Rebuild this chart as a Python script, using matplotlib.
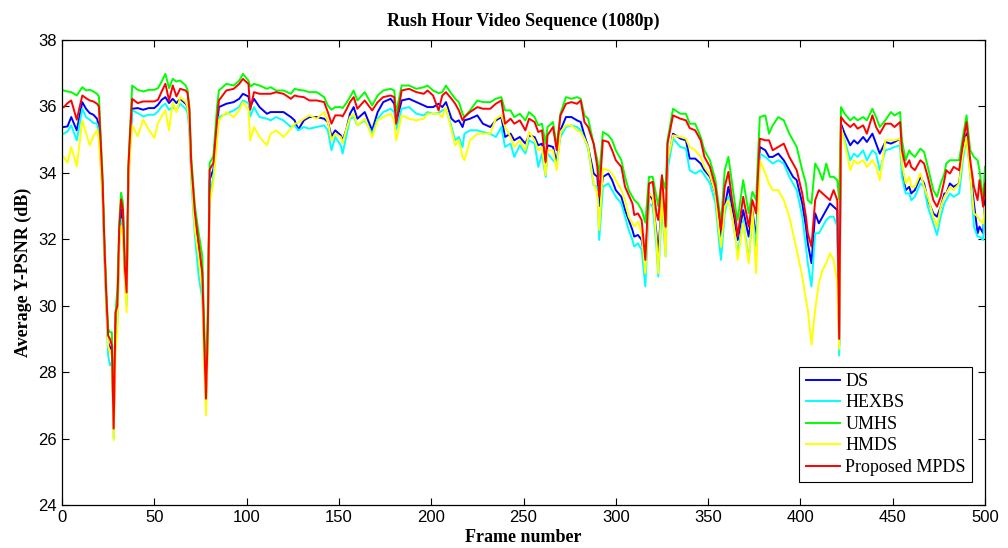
import matplotlib
matplotlib.use("Agg")
import matplotlib.pyplot as plt

frames = [1, 3, 5, 8, 11, 13, 15, 17, 19, 20, 22, 23, 24, 25, 26, 27, 28, 29, 30, 31, 32, 33, 34, 35, 36, 37, 38,
          41, 44, 47, 50, 52, 54, 56, 58, 60, 62, 64, 67, 68, 69, 70, 72, 74, 76, 77, 78, 79, 80, 82, 84, 85,
          89, 93, 96, 98, 101, 102, 104, 107, 111, 113, 116, 120, 124, 126, 128, 131, 134, 138, 142, 144, 146,
          148, 151, 152, 154, 156, 158, 160, 164, 168, 171, 174, 178, 180, 181, 184, 188, 192, 196, 198, 201,
          204, 206, 208, 211, 213, 215, 217, 218, 221, 225, 228, 232, 235, 238, 240, 243, 245, 248, 251, 253,
          256, 258, 260, 262, 263, 266, 268, 270, 273, 276, 279, 281, 283, 285, 288, 290, 291, 293, 296, 298,
          300, 303, 305, 307, 309, 310, 312, 314, 316, 318, 320, 322, 323, 325, 327, 328, 331, 335, 338, 340,
          343, 346, 348, 351, 354, 356, 357, 359, 361, 363, 365, 366, 369, 372, 374, 376, 378, 381, 383, 385,
          388, 391, 394, 396, 398, 401, 403, 404, 406, 408, 410, 412, 414, 416, 418, 420, 421, 422, 424, 427,
          429, 431, 434, 436, 439, 441, 443, 446, 449, 451, 454, 455, 457, 459, 460, 462, 465, 467, 469, 472,
          474, 476, 478, 479, 481, 483, 486, 488, 490, 492, 494, 496, 497, 499, 500]

umhs = [36.48, 36.45, 36.43, 36.33, 36.58, 36.48, 36.50, 36.45, 36.38, 36.30, 33.90, 32.00, 30.50, 29.30, 29.20, 29.20, 26.80, 29.80, 30.50, 32.50, 33.40, 33.10, 31.50, 30.50, 34.30, 35.50, 36.63,
        36.50, 36.45, 36.50, 36.50, 36.55, 36.75, 36.98, 36.55, 36.83, 36.75, 36.78, 36.63, 36.50, 36.00, 34.50, 33.00, 32.20, 31.50, 29.50, 27.80, 30.00, 34.30, 34.50, 36.00, 36.48,
        36.68, 36.63, 36.78, 36.98, 36.78, 36.60, 36.68, 36.63, 36.53, 36.58, 36.48, 36.48, 36.38, 36.53, 36.50, 36.48, 36.43, 36.43, 36.28, 36.03, 35.90,
        35.98, 35.98, 35.95, 36.10, 36.28, 36.48, 36.18, 36.43, 36.03, 36.33, 36.48, 36.53, 36.48, 35.80, 36.63, 36.63, 36.53, 36.58, 36.63, 36.48,
        36.40, 36.43, 36.63, 36.38, 36.23, 36.13, 35.78, 35.68, 35.88, 36.18, 36.13, 36.13, 36.23, 36.28, 35.88, 35.88, 35.68, 35.78, 35.58, 35.83,
        35.68, 35.43, 35.48, 34.88, 35.38, 35.53, 34.78, 35.78, 36.28, 36.23, 36.28, 36.23, 35.73, 35.63, 34.88, 34.38, 33.90, 35.23, 35.13, 34.98,
        34.68, 34.38, 33.88, 33.48, 33.28, 33.18, 33.08, 32.88, 32.50, 33.88, 33.88, 33.30, 33.00, 33.88, 33.50, 34.98, 35.93, 35.78, 35.78, 35.48,
        35.48, 35.08, 34.68, 34.38, 33.78, 32.90, 32.48, 34.08, 34.48, 33.68, 32.88, 32.58, 33.78, 32.78, 33.43, 33.18, 35.68, 35.73, 35.18, 35.43,
        35.68, 35.58, 35.18, 34.98, 34.78, 34.08, 33.68, 33.18, 33.08, 34.28, 34.08, 33.78, 34.28, 33.88, 33.88, 33.78, 33.20, 35.98, 35.78, 35.58,
        35.68, 35.58, 35.68, 35.58, 35.93, 35.68, 35.38, 35.58, 35.83, 35.73, 35.83, 34.98, 34.38, 34.68, 34.58, 34.48, 34.73, 34.63, 34.18, 33.48,
        33.28, 33.68, 33.98, 34.28, 34.38, 34.38, 34.38, 35.08, 35.73, 34.68, 34.48, 34.38, 34.08, 33.18, 34.18]

mpds = [35.98, 36.10, 36.18, 35.60, 36.33, 36.25, 36.18, 36.15, 36.08, 36.00, 33.70, 31.80, 30.30, 29.10, 29.00, 28.80, 26.30, 29.80, 30.00, 32.30, 33.20, 32.90, 31.20, 30.40, 34.20, 35.30, 36.23,
        36.10, 36.15, 36.15, 36.15, 36.20, 36.45, 36.68, 36.18, 36.63, 36.30, 36.53, 36.48, 36.40, 35.90, 34.30, 32.80, 31.90, 31.00, 29.00, 27.20, 29.30, 34.10, 34.30, 35.60, 36.18,
        36.48, 36.53, 36.68, 36.83, 36.68, 35.90, 36.43, 36.38, 36.38, 36.38, 36.43, 36.38, 36.23, 36.33, 36.30, 36.28, 36.18, 36.18, 36.13, 35.83, 35.48,
        35.73, 35.73, 35.70, 35.90, 36.13, 36.28, 35.93, 36.18, 35.88, 36.13, 36.28, 36.33, 36.28, 35.48, 36.48, 36.53, 36.43, 36.38, 36.48, 36.33,
        35.88, 36.33, 36.43, 36.23, 36.08, 35.88, 35.58, 35.68, 35.83, 35.98, 35.93, 35.93, 36.08, 36.18, 35.48, 35.63, 35.48, 35.58, 35.28, 35.63,
        35.53, 35.23, 35.28, 34.33, 35.13, 35.38, 34.68, 35.73, 36.08, 36.13, 36.08, 36.18, 35.53, 35.38, 34.88, 34.18, 33.28, 34.98, 34.93, 34.68,
        34.38, 34.18, 33.58, 33.33, 33.08, 32.73, 32.78, 32.58, 31.38, 33.68, 33.73, 32.78, 32.58, 33.93, 32.38, 34.88, 35.73, 35.63, 35.58, 35.35,
        35.28, 34.98, 34.48, 34.18, 33.58, 32.70, 32.28, 33.58, 34.03, 33.18, 32.58, 32.08, 33.28, 32.38, 33.18, 32.78, 35.03, 34.98, 34.98, 34.68,
        34.78, 34.88, 34.48, 34.28, 34.08, 33.38, 32.68, 32.18, 31.78, 33.18, 33.48, 33.38, 33.28, 33.18, 33.48, 33.18, 29.00, 35.68, 35.53, 35.38,
        35.48, 35.33, 35.43, 35.18, 35.73, 35.38, 35.18, 35.48, 35.48, 35.38, 35.53, 34.68, 34.18, 34.38, 34.18, 34.08, 34.38, 34.28, 33.88, 33.18,
        32.98, 33.28, 33.78, 34.08, 33.98, 34.18, 34.08, 34.88, 35.53, 34.38, 33.58, 33.18, 33.78, 32.98, 33.68]

ds = [35.38, 35.40, 35.68, 35.28, 36.13, 35.93, 35.80, 35.75, 35.63, 35.40, 33.50, 31.60, 30.10, 28.90, 28.70, 28.80, 26.30, 29.40, 29.70, 32.00, 32.90, 32.60, 31.00, 30.20, 34.00, 35.00, 35.93,
      35.95, 35.90, 35.95, 35.95, 36.05, 36.20, 36.28, 36.10, 36.23, 36.10, 36.23, 36.08, 36.00, 35.50, 34.10, 32.50, 31.60, 30.70, 28.80, 27.20, 29.20, 33.80, 34.10, 35.40, 35.98,
      36.08, 36.13, 36.23, 36.38, 36.30, 36.00, 36.23, 35.98, 35.78, 35.83, 35.83, 35.83, 35.68, 35.58, 35.30, 35.58, 35.68, 35.68, 35.63, 35.53, 35.10,
      35.28, 35.13, 34.98, 35.30, 35.78, 35.98, 35.63, 35.83, 35.28, 35.83, 36.13, 36.23, 36.08, 35.50, 36.18, 36.23, 36.13, 36.03, 35.98, 35.98,
      36.08, 35.98, 36.13, 35.63, 35.53, 35.58, 35.38, 35.58, 35.63, 35.73, 35.48, 35.38, 35.58, 35.68, 35.08, 35.18, 34.98, 35.08, 34.88, 35.13,
      35.08, 34.83, 34.88, 34.30, 34.83, 34.78, 34.30, 35.28, 35.68, 35.68, 35.58, 35.53, 35.13, 34.78, 33.98, 33.88, 33.00, 33.88, 33.98, 33.78,
      33.48, 33.28, 32.88, 32.58, 32.28, 32.08, 32.13, 31.98, 31.30, 33.38, 33.18, 32.18, 31.60, 33.18, 31.90, 34.18, 35.18, 35.03, 34.98, 34.43,
      34.43, 34.28, 34.08, 33.88, 33.38, 32.50, 31.98, 32.98, 33.58, 32.98, 32.28, 31.98, 32.88, 32.08, 32.88, 31.98, 34.78, 34.68, 34.48, 34.48,
      34.58, 34.38, 34.08, 33.88, 33.78, 33.08, 32.38, 31.88, 31.28, 32.78, 32.48, 32.68, 32.88, 33.08, 32.98, 32.88, 28.80, 35.48, 35.18, 34.83,
      34.98, 34.88, 35.08, 34.93, 35.18, 34.88, 34.58, 34.93, 34.88, 34.93, 35.03, 34.18, 33.48, 33.58, 33.38, 33.48, 33.88, 33.68, 33.18, 32.78,
      32.68, 32.98, 33.38, 33.38, 33.68, 33.58, 33.68, 34.68, 35.18, 34.08, 33.08, 32.18, 32.38, 32.18, 33.18]

hexbs = [35.18, 35.25, 35.43, 34.98, 35.93, 35.68, 35.60, 35.50, 35.48, 35.20, 33.20, 31.40, 29.90, 28.50, 28.20, 28.30, 26.00, 29.10, 29.50, 31.80, 32.60, 32.40, 30.90, 30.00, 33.80, 34.90, 35.88,
         35.80, 35.70, 35.75, 35.75, 35.85, 36.00, 36.08, 35.90, 35.98, 35.90, 36.08, 35.93, 35.80, 35.30, 33.80, 32.10, 30.90, 30.20, 28.60, 27.00, 29.00, 33.20, 33.90, 35.10, 35.68,
         35.78, 35.88, 35.98, 36.18, 36.10, 35.70, 35.98, 35.68, 35.63, 35.58, 35.68, 35.58, 35.38, 35.43, 35.28, 35.38, 35.33, 35.38, 35.43, 35.28, 34.68,
         35.08, 34.83, 34.58, 35.10, 35.63, 35.68, 35.43, 35.58, 35.18, 35.63, 35.83, 35.93, 35.83, 35.30, 35.93, 35.98, 35.78, 35.73, 35.83, 35.78,
         35.80, 35.88, 35.93, 35.38, 34.98, 35.08, 34.78, 35.18, 35.28, 35.28, 35.23, 35.18, 35.08, 35.38, 34.78, 34.88, 34.48, 34.83, 34.58, 34.98,
         34.88, 34.18, 34.58, 33.88, 34.58, 34.38, 34.28, 35.08, 35.38, 35.43, 35.38, 35.28, 35.03, 34.73, 33.63, 33.58, 31.98, 33.58, 33.68, 33.48,
         33.28, 33.08, 32.68, 32.28, 31.98, 31.78, 31.88, 31.68, 30.58, 33.08, 32.98, 31.78, 30.88, 32.98, 31.48, 34.08, 35.03, 34.78, 34.73, 34.08,
         33.98, 34.08, 33.93, 33.68, 33.08, 31.90, 31.38, 32.78, 33.28, 32.68, 31.98, 31.58, 32.58, 31.38, 32.68, 31.78, 34.58, 34.48, 34.38, 34.28,
         34.38, 34.28, 33.88, 33.68, 33.48, 32.68, 31.78, 31.28, 30.58, 32.18, 32.18, 32.38, 32.58, 32.68, 32.68, 32.38, 28.50, 35.28, 34.98, 34.38,
         34.58, 34.48, 34.68, 34.38, 34.68, 34.58, 34.08, 34.68, 34.73, 34.78, 34.83, 33.88, 33.38, 33.38, 33.18, 33.28, 33.68, 33.58, 32.98, 32.48,
         32.13, 32.68, 33.08, 33.18, 33.38, 33.28, 33.38, 34.38, 35.08, 33.98, 32.38, 32.08, 32.08, 31.98, 32.98]

hmds = [34.48, 34.30, 34.78, 34.20, 35.58, 35.20, 34.83, 35.10, 35.28, 35.00, 33.30, 31.50, 30.00, 28.80, 28.60, 28.50, 25.95, 28.70, 29.20, 31.80, 32.40, 32.20, 30.80, 29.80, 33.60, 34.70, 35.43,
        35.10, 35.60, 35.30, 35.05, 35.50, 35.70, 35.88, 35.28, 36.13, 35.83, 36.28, 36.13, 36.00, 35.50, 34.00, 32.30, 31.50, 30.50, 28.30, 26.70, 28.80, 33.10, 33.70, 35.00, 35.58,
        35.83, 35.68, 35.88, 36.13, 35.90, 34.98, 35.38, 35.08, 34.83, 35.18, 35.28, 35.08, 35.33, 35.48, 35.50, 35.63, 35.73, 35.63, 35.83, 35.53, 34.98,
        35.18, 35.08, 34.90, 35.30, 35.68, 35.78, 35.43, 35.63, 35.08, 35.58, 35.68, 35.78, 35.58, 34.98, 35.73, 35.63, 35.58, 35.63, 35.78, 35.78,
        35.78, 35.68, 35.98, 35.28, 34.83, 34.98, 34.48, 34.38, 34.98, 35.18, 35.18, 35.18, 35.63, 35.73, 35.38, 35.08, 34.78, 34.98, 34.68, 35.23,
        34.98, 34.68, 34.78, 33.93, 34.68, 34.68, 34.08, 35.23, 35.43, 35.43, 35.28, 35.23, 35.03, 34.78, 33.68, 33.38, 32.28, 34.13, 34.08, 33.98,
        33.78, 33.48, 33.18, 32.68, 32.48, 32.38, 32.53, 32.18, 30.98, 33.38, 33.28, 31.98, 30.98, 33.38, 31.48, 34.38, 35.13, 35.08, 35.03, 34.78,
        34.68, 34.48, 34.18, 33.93, 33.38, 32.20, 31.78, 32.98, 33.18, 32.68, 31.98, 31.38, 32.48, 31.28, 32.88, 30.98, 34.38, 33.98, 33.68, 33.48,
        33.48, 33.18, 32.68, 32.18, 31.68, 30.88, 30.18, 29.88, 28.83, 29.88, 30.68, 31.08, 31.28, 31.58, 31.38, 30.68, 28.70, 35.38, 34.88, 34.08,
        34.38, 34.28, 34.38, 34.18, 34.38, 34.18, 33.78, 34.98, 34.98, 34.98, 35.03, 34.28, 33.68, 33.88, 33.58, 33.58, 33.98, 33.58, 33.28, 32.68,
        32.38, 32.98, 33.28, 33.38, 33.58, 33.48, 33.68, 34.58, 35.08, 33.98, 32.78, 32.68, 32.58, 32.48, 32.98]

series_names = ["DS", "HEXBS", "UMHS", "HMDS", "Proposed MPDS"]
series_values = [ds, hexbs, umhs, hmds, mpds]
series_colors = ["#0000ff", "#00ffff", "#00ff00", "#ffff00", "#ff0000"]

xticks = [0, 50, 100, 150, 200, 250, 300, 350, 400, 450, 500]
yticks = [24, 26, 28, 30, 32, 34, 36, 38]

fig = plt.figure(figsize=(10.08, 5.48), dpi=100)
ax = fig.add_axes([62 / 1008, 43 / 548, 923 / 1008, 465 / 548])

for name, vals, col in zip(series_names, series_values, series_colors):
    ax.plot(frames, vals, color=col, lw=1.4, label=name)

ax.set_xlim(0, 500)
ax.set_ylim(24, 38)
ax.set_xticks(xticks)
ax.set_yticks(yticks)
ax.tick_params(direction="in", top=True, right=True, length=5, labelsize=12, width=0.8)
for lab in ax.get_xticklabels() + ax.get_yticklabels():
    lab.set_family("Liberation Sans")
for sp in ax.spines.values():
    sp.set_linewidth(0.9)

ax.set_title("Rush Hour Video Sequence (1080p)", fontsize=13, fontweight="bold",
             family="Liberation Serif", pad=10)
ax.set_xlabel("Frame number", fontsize=13, fontweight="bold", family="Liberation Serif", labelpad=3)
ax.set_ylabel("Average Y-PSNR (dB)", fontsize=13, fontweight="bold", family="Liberation Serif", labelpad=5)

leg = ax.legend(loc="lower right", bbox_to_anchor=(0.986, 0.049), prop={"family": "Liberation Serif", "size": 13},
                fancybox=False, framealpha=1, edgecolor="black", handlelength=1.9, handletextpad=0.3,
                borderpad=0.35, labelspacing=0.25, borderaxespad=0)
leg.get_frame().set_linewidth(0.8)

fig.savefig("out.png", dpi=100)
